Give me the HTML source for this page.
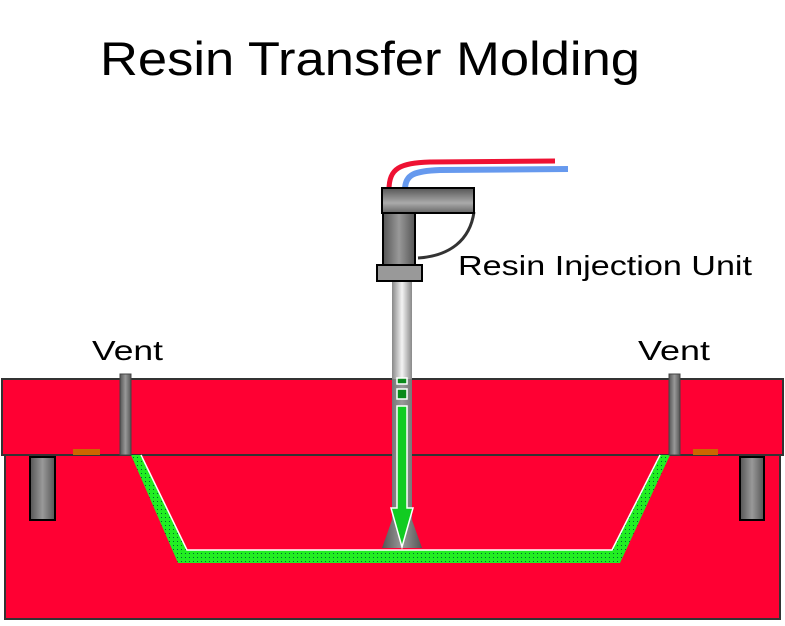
<!DOCTYPE html>
<html><head><style>
body{margin:0;width:785px;height:621px;background:#fff;overflow:hidden}
</style></head><body>
<svg width="785" height="621" viewBox="0 0 785 621" xmlns="http://www.w3.org/2000/svg" font-family="Liberation Sans, DejaVu Sans, sans-serif">
<defs>
<linearGradient id="g" x1="0" x2="1"><stop offset="0" stop-color="#555"/><stop offset=".5" stop-color="#999"/><stop offset="1" stop-color="#555"/></linearGradient>
<linearGradient id="gv" x1="0" y1="0" x2="0" y2="1"><stop offset="0" stop-color="#555"/><stop offset=".6" stop-color="#aaa"/><stop offset="1" stop-color="#666"/></linearGradient>
<linearGradient id="tube" x1="0" x2="1"><stop offset="0" stop-color="#888"/><stop offset=".5" stop-color="#f4f4f4"/><stop offset="1" stop-color="#888"/></linearGradient>
<pattern id="dots" width="4" height="4" patternUnits="userSpaceOnUse"><rect width="4" height="4" fill="#22ee22"/><rect x="1" y="1" width="1" height="1" fill="#063"/></pattern>
</defs>
<text x="100" y="75" font-size="47" fill="#000" textLength="540" lengthAdjust="spacingAndGlyphs">Resin Transfer Molding</text>
<rect x="5" y="455" width="775" height="164" fill="#ff0033" stroke="#333" stroke-width="2"/>
<rect x="2" y="379" width="781" height="76" fill="#ff0033" stroke="#333" stroke-width="2"/>
<polygon points="131,455 178,563 620,563 670,455 660,455 612,550 187,550 141,455" fill="url(#dots)"/>
<polyline points="141,455 187,550 612,550 660,455" fill="none" stroke="#fff" stroke-width="1.5"/>
<rect x="73" y="449" width="27" height="6" fill="#cc6600"/>
<rect x="693" y="449" width="25" height="6" fill="#cc6600"/>
<rect x="30" y="457" width="25" height="63" fill="url(#g)" stroke="#000" stroke-width="2"/>
<rect x="740" y="457" width="24" height="63" fill="url(#g)" stroke="#000" stroke-width="2"/>
<rect x="120" y="374" width="11" height="81" fill="url(#g)" stroke="#444"/>
<rect x="669" y="374" width="11" height="81" fill="url(#g)" stroke="#444"/>
<text x="92" y="360" font-size="28" textLength="71" lengthAdjust="spacingAndGlyphs">Vent</text>
<text x="638" y="360" font-size="28" textLength="72" lengthAdjust="spacingAndGlyphs">Vent</text>
<rect x="392" y="280" width="20" height="100" fill="url(#tube)"/>
<polygon points="392,379 412,379 412,520 422,548 382,548 392,520" fill="url(#g)"/>
<rect x="397" y="378" width="10" height="6" fill="#0a8a1a" stroke="#fff" stroke-width="1.5"/>
<rect x="397" y="389" width="10" height="10" fill="#0a8a1a" stroke="#fff" stroke-width="1.5"/>
<polygon points="397,406 407,406 407,508 413,508 402,547 391,508 397,508" fill="#11cc22" stroke="#fff" stroke-width="1.5"/>
<path d="M389,190 C389,168 400,163 430,162 L555,161" fill="none" stroke="#ee1133" stroke-width="5"/>
<path d="M405,190 C405,174 415,171 440,170 L568,169" fill="none" stroke="#6699ee" stroke-width="6"/>
<path d="M474,212 C470,240 450,256 418,258" fill="none" stroke="#333" stroke-width="3"/>
<rect x="383" y="212" width="32" height="54" fill="url(#g)" stroke="#000" stroke-width="2"/>
<rect x="382" y="188" width="92" height="25" fill="url(#gv)" stroke="#000" stroke-width="2"/>
<rect x="377" y="265" width="45" height="16" fill="#999" stroke="#000" stroke-width="2"/>
<text x="458" y="275" font-size="28" textLength="294" lengthAdjust="spacingAndGlyphs">Resin Injection Unit</text>
</svg>
</body></html>
